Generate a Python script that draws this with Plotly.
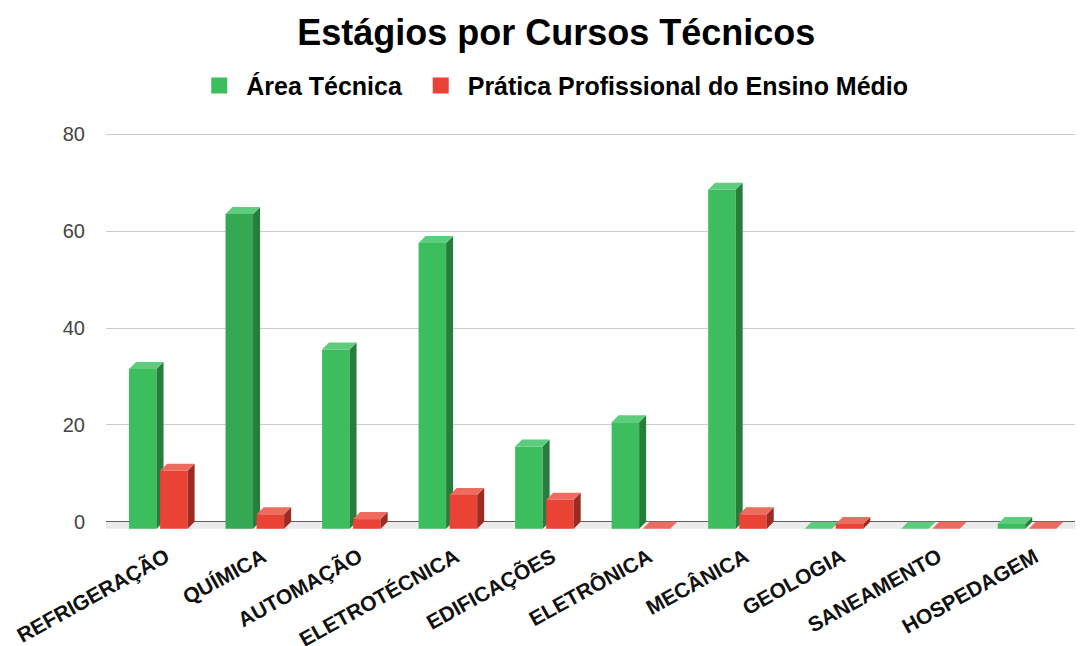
import plotly.graph_objects as go

cursos = ["REFRIGERAÇÃO", "QUÍMICA", "AUTOMAÇÃO", "ELETROTÉCNICA", "EDIFICAÇÕES",
          "ELETRÔNICA", "MECÂNICA", "GEOLOGIA", "SANEAMENTO", "HOSPEDAGEM"]
area_tecnica = [33, 65, 37, 59, 17, 22, 70, 0, 0, 1]
pratica_profissional = [12, 3, 2, 7, 6, 0, 3, 1, 0, 0]
y_ticks = [0, 20, 40, 60, 80]

# geometria das barras "3D" (em unidades dos eixos)
largura = 0.285
meio_vao = 0.0185
dx = 0.0725   # profundidade horizontal
dy = 1.446    # profundidade vertical

verde = dict(frente="#3cbe5e", lado="#267d3c", topo="#5dcc7d")
verde_escuro = "#34a853"
vermelho = dict(frente="#ea4335", lado="#9b2b23", topo="#ee6b5f")

fig = go.Figure()

# piso cinza
x0, x1 = -0.542, 9.58
fig.add_trace(go.Scatter(
    x=[x0, x1, x1 - dx, x0 - dx, x0], y=[0, 0, -dy, -dy, 0],
    fill="toself", mode="lines", line=dict(width=0),
    fillcolor="#ebebeb", hoverinfo="skip", showlegend=False))


def faces(valores, lado_esq):
    frente, lado, topo = [], [], []
    for i, v in enumerate(valores):
        xl = i + (-meio_vao - largura if lado_esq else meio_vao)
        xr = xl + largura
        yb, yt = -dy, v - dy
        frente.append(([xl, xr, xr, xl, xl], [yb, yb, yt, yt, yb]))
        lado.append(([xr, xr + dx, xr + dx, xr, xr], [yb, 0, v, yt, yb]))
        topo.append(([xl, xr, xr + dx, xl + dx, xl], [yt, yt, v, v, yt]))
    return frente, lado, topo


def poligono(lista, cor):
    xs, ys = [], []
    for px, py in lista:
        xs += px + [None]
        ys += py + [None]
    fig.add_trace(go.Scatter(x=xs, y=ys, fill="toself", mode="lines",
                             line=dict(width=0), fillcolor=cor,
                             hoverinfo="skip", showlegend=False))


for valores, cores, esq in [(area_tecnica, verde, True),
                            (pratica_profissional, vermelho, False)]:
    frente, lado, topo = faces(valores, esq)
    for i, (f, v) in enumerate(zip(frente, valores)):
        cor = cores["frente"]
        if esq and i == 1:
            cor = verde_escuro
        if v > 0:
            poligono([f], cor)
    poligono([l for l, v in zip(lado, valores) if v > 0], cores["lado"])
    poligono(topo, cores["topo"])

# entradas da legenda
nbsp = "\u00a0"
for nome, cor in [(nbsp + "<b>Área Técnica</b>" + nbsp * 2, verde["frente"]),
                  (nbsp + "<b>Prática Profissional do Ensino Médio</b>", vermelho["frente"])]:
    fig.add_trace(go.Scatter(x=[None], y=[None], mode="markers", name=nome,
                             marker=dict(symbol="square", size=17, color=cor)))

# a página tem 8px de margem no body
fig.update_layout(
    width=1075, height=638,
    margin=dict(l=98, r=0, t=124, b=116),
    paper_bgcolor="white", plot_bgcolor="white",
    font=dict(family="Liberation Sans, Arial, sans-serif", color="#222"),
    title=dict(text="<b>Estágios por Cursos Técnicos</b>", x=0.51, xref="container",
               xanchor="center", y=0.962, yanchor="middle",
               font=dict(size=36, color="#000")),
    legend=dict(orientation="h", x=0.51, xref="container", xanchor="center",
                y=0.878, yref="container", yanchor="middle",
                font=dict(size=25, color="#000"), itemsizing="trace",
                traceorder="normal"),
    showlegend=True,
)
fig.update_xaxes(range=[x0, x1], tickvals=[i + 0.08 for i in range(len(cursos))],
                 ticktext=[f"<b>{c}</b>" for c in cursos], tickangle=-29,
                 tickfont=dict(size=21, color="#111"), showgrid=False,
                 zeroline=False, showline=False, ticks="", automargin=False,
                 ticklabelstandoff=10)
fig.update_yaxes(range=[-1.7, 80.5], tickvals=y_ticks, showgrid=True,
                 gridcolor="#cccccc", gridwidth=1, zeroline=True,
                 zerolinecolor="#333333", zerolinewidth=2,
                 tickfont=dict(size=20, color="#444"), ticklabelstandoff=20,
                 automargin=False)

fig.write_html("out.html")
